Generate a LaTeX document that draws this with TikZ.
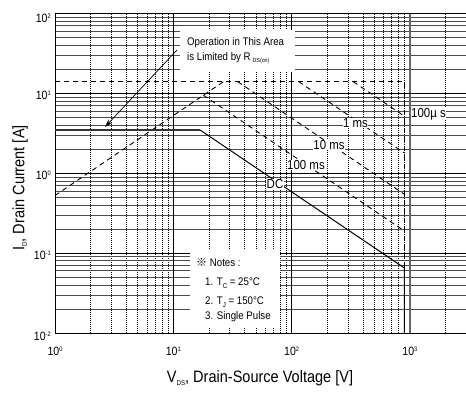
\documentclass[tikz,border=0pt]{standalone}
\usepackage{fontspec}
\setmainfont{Liberation Sans}[FakeStretch=0.88]
\newfontfamily\cjk{Noto Sans CJK SC}
\usetikzlibrary{arrows.meta}
\newcommand{\expo}[1]{\raisebox{4pt}{\fontsize{6.5}{6.5}\selectfont #1}}
\newcommand{\subs}[1]{\raisebox{-2.5pt}{\fontsize{7}{7}\selectfont #1}}
\tikzset{
  minorv/.style={line width=0.55pt, dash pattern=on 1pt off 1pt},
  minorh/.style={line width=0.7pt, black!70},
  majorline/.style={line width=0.6pt},
  frameline/.style={line width=0.9pt},
  soa/.style={line width=0.9pt, dash pattern=on 5pt off 4pt},
  dcline/.style={line width=1pt},
  curvelabel/.style={fill=white, inner sep=0.6pt, font=\fontsize{13}{13}\selectfont},
  ticklabel/.style={font=\fontsize{12}{12}\selectfont, inner sep=0pt},
  axislabel/.style={font=\fontsize{16.5}{16.5}\selectfont, inner sep=0pt},
  notetext/.style={font=\fontsize{11}{11}\selectfont, inner sep=0pt, anchor=west},
  whitebox/.style={fill=white, draw=none, inner sep=0pt, anchor=north west},
}
\begin{document}
\begin{tikzpicture}[x=1pt,y=1pt]
\useasboundingbox (0,0) rectangle (466,393);
\fill[white] (0,0) rectangle (466,393);
\begin{scope}
\clip (0,0) rectangle (466,393);
\begin{scope}[shift={(55,60)}, x=118.3pt, y=79.9pt]
  % minor grid
  \foreach \d in {0,1,2,3}{
    \foreach \k in {2,...,9}{
      \pgfmathsetmacro{\u}{\d+log10(\k)}
      \draw[minorv] (\u,0) -- (\u,4);
    }
  }
  \foreach \d in {0,1,2,3}{
    \foreach \k in {2,...,9}{
      \pgfmathsetmacro{\v}{\d+log10(\k)}
      \draw[minorh] (0,\v) -- (3.6,\v);
    }
  }
  % major grid
  \foreach \u in {1,2}{ \draw[majorline] (\u,0) -- (\u,4); }
  \draw[line width=1.2pt, black!60] (3,0) -- (3,4);
  \foreach \v in {1,2,3}{ \draw[majorline] (0,\v) -- (3.6,\v); }
  % frame
  \draw[frameline] (3.6,4) -- (0,4) -- (0,0) -- (3.6,0);
  % curve points
  \coordinate (idmL) at (0,3.146);
  \coordinate (idmR) at (2.954,3.146);
  \coordinate (vEnd) at (2.954,0.813);
  \coordinate (vBot) at (2.954,0);
  \coordinate (rdsL) at (0,1.721);
  \coordinate (rdsT) at (1.425,3.146);
  \coordinate (msCa) at (1.2545,2.9755);
  \coordinate (msCb) at (2.954,1.276);
  \coordinate (msXa) at (1.544,3.146);
  \coordinate (msXb) at (2.954,1.736);
  \coordinate (msIa) at (2.06,3.146);
  \coordinate (msIb) at (2.954,2.252);
  \coordinate (usCa) at (2.521,3.146);
  \coordinate (usCb) at (2.954,2.713);
  \coordinate (dcL) at (0,2.541);
  \coordinate (dcK) at (1.226,2.541);
\end{scope}
\end{scope}
% white boxes
\node[whitebox, minimum width=115pt, minimum height=42pt] (opbox) at (180,363) {};
\node[whitebox, minimum width=90pt, minimum height=78pt] (notebox) at (190,143) {};
% SOA curves
\draw[soa] (idmL) -- (idmR) -- (vEnd);
\draw[soa] (rdsL) -- (rdsT);
\draw[soa] (msCa) -- (msCb);
\draw[soa] (msXa) -- (msXb);
\draw[soa] (msIa) -- (msIb);
\draw[soa] (usCa) -- (usCb);
\draw[line width=1.8pt, black!80] (dcL) -- (dcK);
\draw[dcline] (dcK) -- (vEnd) -- (vBot);
% curve labels
\node[curvelabel] (lus) at (428.5,279) {100µ s};
\node[curvelabel] (lms1) at (355.5,270) {1 ms};
\node[curvelabel] (lms10) at (329,248) {10 ms};
\node[curvelabel] (lms100) at (306,228) {100 ms};
\node[curvelabel] (ldc) at (275,209) {DC};
% operation text and arrow
\node[notetext] (op1) at (187,350) {Operation in This Area};
\node[notetext] (op2) at (187,335) {is Limited by R\hspace{2pt}\raisebox{-2.5pt}{\fontsize{6}{6}\selectfont DS(on)}};
\coordinate (arrS) at (177,343);
\coordinate (arrE) at (105,266);
\draw[line width=0.7pt, -{Stealth[length=8pt,width=5pt]}] (arrS) -- (arrE);
% notes
\node[notetext] (n0) at (196,131) {{\cjk ※} Notes :};
\node[notetext] (n1) at (205,110) {1. T\subs{C} = 25°C};
\node[notetext] (n2) at (205,91) {2. T\subs{J} = 150°C};
\node[notetext] (n3) at (205,76) {3. Single Pulse};
% tick labels y
\node[ticklabel, anchor=east] (y2) at (51,375) {10\expo{2}};
\node[ticklabel, anchor=east] (y1) at (51,298) {10\expo{1}};
\node[ticklabel, anchor=east] (y0) at (51,218) {10\expo{0}};
\node[ticklabel, anchor=east] (ym1) at (51,138) {10\expo{-1}};
\node[ticklabel, anchor=east] (ym2) at (51,57) {10\expo{-2}};
% tick labels x
\node[ticklabel, anchor=base] (x0) at (55,37) {10\expo{0}};
\node[ticklabel, anchor=base] (x1) at (173.3,37) {10\expo{1}};
\node[ticklabel, anchor=base] (x2) at (291.6,37) {10\expo{2}};
\node[ticklabel, anchor=base] (x3) at (409.9,37) {10\expo{3}};
% axis labels
\node[axislabel, anchor=base] (xlab) at (260,10) {V\subs{DS}, Drain-Source Voltage [V]};
\node[axislabel, rotate=90] (ylab) at (20,205) {I\subs{D}, Drain Current [A]};
\end{tikzpicture}
\end{document}
